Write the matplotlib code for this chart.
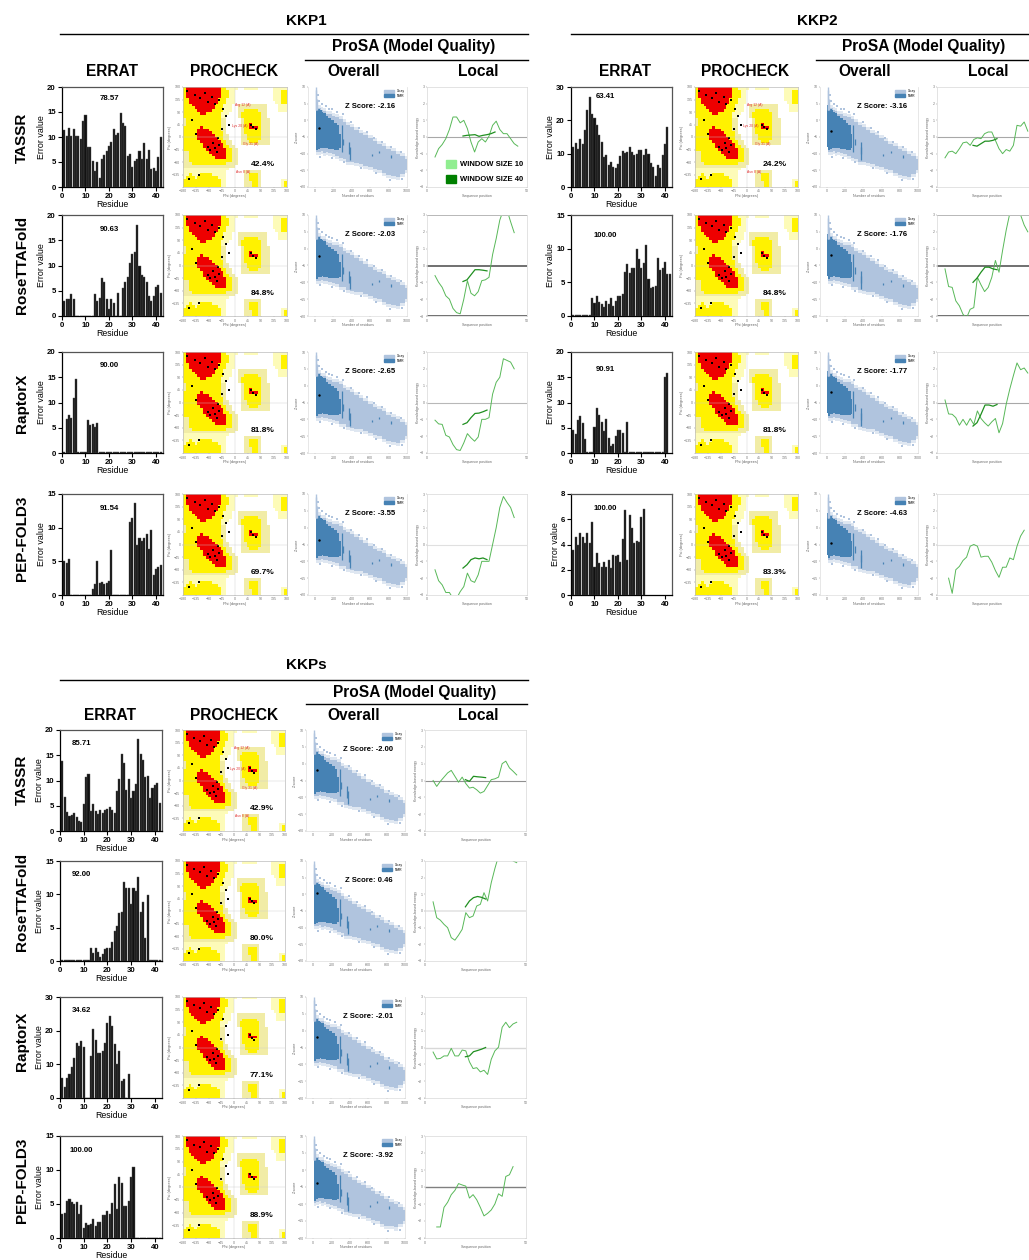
import numpy as np
import matplotlib
matplotlib.use('Agg')
import matplotlib.pyplot as plt
from matplotlib.colors import ListedColormap
from matplotlib.patches import Patch, Rectangle

plt.rcParams['font.family'] = ['Liberation Sans', 'DejaVu Sans']

W, H = 1029, 1260
MODELS = ['TASSR', 'RoseTTAFold', 'RaptorX', 'PEP-FOLD3']

# ERRAT error values per residue (starting at residue 1)
ERRAT = {
    'KKP1': [
        [11.5, 10.3, 11.8, 10.3, 11.7, 10.3, 10.3, 9.7, 13.2, 14.5, 8.1, 8, 5.3, 3.2, 5, 1.9, 5.7, 6.5, 7.3, 8.2, 9,
         11.7, 10.5, 10.8, 14.8, 12.8, 12.3, 6.3, 6.7, 4.1, 5.3, 5.6, 7.3, 5.7, 8.9, 5.6, 7.5, 3.6, 3.9, 3.2, 6.1, 10.1],
        [3, 3.3, 3.3, 4.4, 3.3, 0, 0, 0, 0, 0, 0, 0, 0, 4.3, 3, 3.5, 7.5, 6.8, 3.3, 1.4, 3.3, 2.5, 0, 4.5, 0, 5.6,
         6.7, 7.8, 10.4, 12.2, 12.6, 18, 10, 8.2, 7.7, 6.7, 3.9, 3, 3.9, 5.8, 6.1, 4.6],
        [0.1, 6.8, 7.6, 7, 10.8, 14.7, 0.1, 0.1, 0.1, 0.1, 6.5, 5.6, 5.8, 5.2, 5.9, 0.1, 0.1, 0.1, 0.1, 0.1, 0.1,
         0.1, 0.1, 0.1, 0.1, 0.1, 0.1, 0.1, 0.1, 0.1, 0.1, 0.1, 0.1, 0.1, 0.1, 0.1, 0.1, 0.1, 0.1, 0.1, 0.1, 0.1],
        [5, 4.7, 5.4, 0.05, 0.05, 0.05, 0.05, 0.05, 0.05, 0.05, 0.05, 0.05, 0.9, 1.6, 5, 1.8, 1.9, 1.6, 1.8, 2.1, 6.7,
         0.05, 0.05, 0.05, 0.05, 0.05, 0.05, 0.05, 10.8, 11.5, 13.7, 7.4, 8.4, 8, 8.4, 9.1, 6.9, 9.6, 3, 3.8, 4.1, 4.5],
    ],
    'KKP2': [
        [12, 13.3, 11.5, 14.3, 12.9, 17.2, 23, 27, 22, 20.8, 18.7, 15.5, 13.6, 9.1, 9.7, 6.5, 7.6, 6, 5.8, 7, 9.4,
         10.8, 10.2, 10.5, 12, 10.5, 9.5, 9.8, 11, 11, 9.5, 11.3, 10, 7.2, 6, 3.4, 6.6, 5.6, 9.5, 12.9, 18],
        [0.1, 0.1, 0.1, 0.1, 0.1, 0.1, 0.1, 0.1, 2.7, 2, 3, 2.1, 1.8, 1.4, 2.3, 1.8, 2.7, 1.5, 2.3, 3, 2.9, 3.3,
         6.5, 7.7, 6.4, 7.2, 7.1, 10, 8.5, 7.2, 7.8, 10.5, 5.5, 4.2, 4.3, 4.4, 8.6, 6.9, 7.2, 8, 6.2, 6.3],
        [4.6, 3.7, 6.6, 7.4, 6, 2.8, 0.1, 0.1, 0.1, 5.2, 9, 7.5, 6.2, 4.3, 6.8, 3, 1.3, 1.8, 3.4, 4.5, 4.5, 4, 0.1,
         6.2, 0.1, 0.1, 0.1, 0.1, 0.1, 0.1, 0.1, 0.1, 0.1, 0.1, 0.1, 0.1, 0.1, 0.1, 0.1, 15, 15.9],
        [3.6, 4.6, 4, 4.9, 4.6, 4.1, 4.9, 4.1, 5.8, 2.2, 3.3, 2.5, 2.2, 2.6, 2.2, 2.8, 2.1, 3.2, 3.1, 3.2, 2.6, 4.4,
         6.7, 2.8, 6.3, 5.3, 4.1, 4.3, 4.2, 6.2, 6.8],
    ],
    'KKPs': [
        [13.8, 6.8, 3.8, 2.9, 3.2, 3.5, 2.7, 1.9, 1.7, 5.3, 10.7, 11.3, 4, 5.4, 4, 3.4, 4.2, 3.6, 4.2, 4.3, 4.8, 4.2,
         3.5, 8, 10.3, 15.2, 13.4, 8.2, 10.3, 6.5, 7.9, 9.4, 18.2, 15.2, 14, 10.7, 10.8, 6.5, 8.6, 9.2, 9.6, 5.5],
        [0.1, 0.1, 0.1, 0.1, 0.1, 0.1, 0.1, 0.1, 0.1, 0.1, 0.1, 0.1, 2, 1.2, 1.9, 1.3, 0.6, 1, 1.8, 1.9, 2, 2.9, 4.5,
         5.3, 7.2, 7.4, 11.9, 10.9, 10.9, 8.6, 10.9, 10.5, 12.6, 7.4, 8.8, 3.4, 9.9, 0.1, 0.1, 0.1, 0.1, 0.1],
        [6, 3.4, 6, 7, 9.3, 11.9, 16.2, 15.5, 16.8, 15.2, 0.1, 0.1, 12.4, 20.5, 17.3, 13.4, 13.5, 13.9, 16.4, 22.2,
         24.4, 21.3, 16, 10.1, 14.1, 5.1, 5.5, 0.1, 7],
        [3.5, 3.7, 5.4, 5.8, 5.3, 5, 5.3, 3.6, 4.8, 1.5, 2.2, 1.9, 2, 2.8, 1.8, 2.4, 2.4, 3.4, 3.4, 3.9, 3.6, 5.1, 8,
         4.2, 9, 8.1, 4.7, 4.7, 5.5, 8.9, 10.4, 0.05, 0.05, 0.05, 0.05, 0.05, 0.05, 0.05, 0.05, 0.05, 0.05, 0.05],
    ],
}
ERRAT_YMAX = {'KKP1': [20, 20, 20, 15], 'KKP2': [30, 15, 20, 8], 'KKPs': [20, 15, 30, 15]}
ERRAT_SCORE = {'KKP1': ['78.57', '90.63', '90.00', '91.54'],
               'KKP2': ['63.41', '100.00', '90.91', '100.00'],
               'KKPs': ['85.71', '92.00', '34.62', '100.00']}
RAMA_PCT = {'KKP1': ['42.4%', '84.8%', '81.8%', '69.7%'],
            'KKP2': ['24.2%', '84.8%', '81.8%', '83.3%'],
            'KKPs': ['42.9%', '80.0%', '77.1%', '88.9%']}
Z_SCORE = {'KKP1': [-2.16, -2.03, -2.65, -3.55],
           'KKP2': [-3.16, -1.76, -1.77, -4.63],
           'KKPs': [-2.00, 0.46, -2.01, -3.92]}

# Ramachandran regions, 10 degree cells, psi 180 at the top
RAMA_MAP = [
    'YRRRRR RRRRRR RYYPPP PWWPPP PPWWWW WPPPPP',
    'YRRRRR RRRRRR RYYYPP WWWWWW WWWWWW WPPPYY',
    'YRRRRR RRRRRR RYYYPP WWWWWW WWWWWW WPPPYY',
    'YRRRRR RRRRRR RYYYPP WWWWWW WWWWWW WPPPYY',
    'YYRRRR RRRRRR YYYPPP WWWWWW WWWWWW WPPPYY',
    'YYRRRR RRRRRR YYYPPP WWWWWW WWWWWW WWPPYY',
    'YYYRRR RRRRRY YYPPPW WTTTTT TTTTTW WWWPPP',
    'YYYYRR RRRRRY YYPPPW WTTTTT TTTTTW WWWPPP',
    'YYYYYR RRRRYY YYPPPW WTTYYY YYTTTW WWWPPP',
    'YYYYYY RRYYYY YPPPWW WTYYYY YYYTTW WWWWWW',
    'YYYYYY YYYYYY YPPWWW WTYYYY YYYTTW WWWWWW',
    'TYYYYY YYYYYY YTTWWW WWTYYY YYYTTT WWWWWW',
    'TYYYYY YYYYYY YTTWWW WWTYYY YYYTTT WWWWWW',
    'TYYYYY YYYYYY YTTWWW WWTYYR YYYTTT WWWWWW',
    'YYYYYY RYYYYY YTTWWW WWTYYR RRYTTT WWWWWW',
    'YYYYYR RRRYYY YTTWWW WWTYYY YYYTTT WWWWWW',
    'YYYYYR RRRRYY YYTWWW WWTYYY YYYTTT WWWWWW',
    'YYYYYR RRRRRY YYTTWW WWTTYY YYYTTT WWWWWW',
    'YYYYYR RRRRRR YYTTWW WWTTYY YYYTTT WWWWWW',
    'YYYYYY RRRRRR RYYTTW WWTTTY YYTTTT WWWWWW',
    'YYYYYY YRRRRR RRYTTW WWTTTT TTTTTT WWWWWW',
    'YYYYYY YRRRRR RRYYTT WWWWWW WWWWWW WWWWWW',
    'YYYYYY YYRRRR RRRYYT TWWWWW WWWWWW WWWWWW',
    'TTYYYY YYYRRR RRRYYT TWWWWW WWWWWW WWWWWW',
    'TTYYYY YYYYRR RRRYYT TWWWWW WWWWWW WWWWWW',
    'TTYYYY YYYYYR RRRYYT TWWWWW WWWWWW WWWWWW',
    'TTYYYY YYYYYY YYYYYT TWWWWW WWWWWW WWWWWW',
    'TTTYYY YYYYYY YYYTTT TWWWWW WWWWWW WWWWWW',
    'TTTTTT TTTTTT TTTTTT WWWWWW WWWWWW WWWWWW',
    'PPPPPP PPPPPP PPPPWW WWWWWW WWWWWW WWWWWW',
    'PPPPPP PPPPPP PPPWWW WWWTTT TTTWWW WWWWWW',
    'PPYPPP YYYYPP PPPWWW WWWTTY YYTWWW WWWWWW',
    'PYYYPY YYYYYY PPPWWW WWWTTY YYTWWW WWWWWW',
    'YYYYYY YYYYYY YPPWWW WWWTTY YYTWWW WWWWPP',
    'YYYYYY YYYYYY YPPWWW WWWTTT YYTWWW WWWWPY',
    'YYYYYY YYYYYY YPPWWW WWWTTT YYTWWW WWWWPY',
]
RAMA_COLORS = {'W': '#ffffff', 'P': '#fdfbb8', 'T': '#f1eca6', 'Y': '#fff200', 'R': '#ee0000'}
RAMA_PHI = [-165, -140, -120, -105, -95, -80, -70, -55, -150, -135, -40, -30, -60, -75, -95, -85, -70, -62, -55, 55, 62, 72, -125, -160, -45, -20]
RAMA_PSI = [165, 150, 140, 160, 125, 145, 120, 135, 60, 10, 100, 75, -5, -20, -35, -45, -40, -55, -30, 45, 35, 28, -135, -150, 30, 45]
# small red residue tags, only on the TASSR panels
RAMA_TAG_PHI = [28, 15, 55, 28]
RAMA_TAG_PSI = [115, 40, -25, -125]
RAMA_TAG_TEXT = ['Arg 12 (A)', 'Lys 20 (A)', 'Gly 31 (A)', 'Asn 8 (A)']

# ProSA overall: NMR / X-ray envelope of the database cloud
CLOUD_X = [10, 20, 50, 75, 100, 130, 160, 200, 240, 280, 320, 360, 400, 450, 500, 550, 600, 650, 700, 750, 800, 850, 900, 950, 1000]
CLOUD_TOP = [4.5, 4.5, 3.8, 3.0, 2.9, 2.0, 1.8, 1.2, 1.0, .4, -.6, -1.3, -2, -2.9, -3.8, -4.5, -5.4, -6.2, -7, -7.6, -8.6, -9.3, -10, -10.8, -11.7]
CLOUD_BOTTOM = [-9.8, -9.6, -9.5, -9.2, -9.7, -9.5, -9.9, -10.2, -10.6, -11.3, -11.5, -12.4, -12.6, -12.8, -13, -13.6, -14, -14.6, -15, -15.8, -16.4, -16.6, -16.9, -16, -15]
NMR_X = [5, 10, 20, 40, 60, 80, 100, 130, 160, 190, 220, 250, 280]
NMR_TOP = [4.5, 5, 4.5, 3.5, 3, 2.6, 2.3, 1.2, .6, 0, -.7, -1.5, -4]
NMR_BOTTOM = [-8, -9.8, -9, -8.5, -8.3, -8.2, -8.3, -8.4, -8.6, -8.6, -8.8, -8.8, -8.4]
STRAY_X = [30, 45, 75, 115, 150, 185, 240, 300, 395, 480, 560, 640, 730, 830, 930,
           55, 180, 310, 500, 660, 820, 945]
STRAY_Y = [7.5, 5.9, 4.9, 4.2, 3.4, 3.3, 2.5, 1.8, -.6, -2.2, -3.4, -5.2, -6.4, -8, -9.6,
           -10.9, -11.3, -12.6, -14.2, -15.8, -18, -17.5]
NMR_SPOT_X = [290, 305, 370, 375, 620, 700, 830]
NMR_SPOT_TOP = [-1.5, -5.5, -6.5, -8, -10.2, -9.2, -10.5]
NMR_SPOT_BOTTOM = [-9.5, -7.5, -10.2, -12, -10.8, -9.8, -11.4]

# ProSA local energy, window size 10 / window size 40
WIN10_X = [4, 5.8, 7.6, 9.4, 11.2, 13, 14.8, 16.6, 18.4, 20.2, 22, 23.8, 25.6, 27.4, 29.2, 31, 32.8, 34.6, 36.4, 38.2, 40, 41.8, 43.6, 45.4]
WIN40_X = [18, 20, 22, 24, 26, 28, 30, 32, 34]
nan = float('nan')
WIN10 = {
    'KKP1': [
        [-1.2, -.7, -.45, -.1, .45, 1.2, 1.2, .85, 1, .5, -.3, -.9, -.3, -.1, -.3, .05, .7, .95, .45, .2, .2, -.1, -.4, -.55],
        [-.6, -1, -1.3, -1.8, -2, -2.55, -2.8, -2.87, -2, -.9, -1.65, -1.8, -1.55, -.9, -.85, -.7, .65, 1.6, 2.7, 3.3, 3.3, 2.6, 1.95],
        [-1.05, -1.27, -1.3, -1.95, -2.05, -2.5, -2.8, -2.85, -2.4, -1.85, -2.1, -2.3, -2.05, -1, -1, -.9, .5, 1.2, 1.5, 2.6, 2.5, 2.4, 2],
        [-1.5, -2.15, -2.4, -2.85, -2.85, -3.2, -3.2, -2.8, -2.5, -1.7, -2.15, -2.25, -1.8, -1, -1, -1, 0, 1, 2.2, 2.85, 2.5, 2.2, 1.6],
    ],
    'KKP2': [
        [-1.25, -.9, -.85, -1, -.7, -.35, -.3, -.5, -.15, -.05, -.1, .2, .3, .3, -.2, -.7, -1, -.75, -.85, -.5, .7, .65, .9, .35],
        [-.2, -1.25, -1.3, -2.1, -2.4, -2.9, -3.1, -2.6, -2.5, -.7, -1.15, -1.55, -1.3, -.7, .3, -.4, .9, 2.1, 3.1, 3.3, 3.3, 3, 2.4, 2],
        [.15, -.68, -.7, -.9, -1.35, -1, -1.35, -.95, -1.3, -.5, -.95, -1.2, -1.4, -1.15, -.95, -1.8, -1.25, -.1, .8, 1.6, 2.35, 1.95, 2.05, 1.75],
        [nan, -2, -2.9, -1.5, -1.3, -.95, -.75, -.1, 0, -.1, -.75, -.7, -.7, -1.05, -1.55, -1.95, -1.35, -1.35, -.8, -.9, -.1, .5, .85],
    ],
    'KKPs': [
        [0, -.35, -.05, .2, .45, .6, .25, -.1, .2, -.18, -.45, -.4, -.55, -.75, -.65, -.3, .05, .1, .2, 1, 1.15, .75, .55, .33],
        [.55, -.4, -.55, -.8, -1, -1.6, -1.75, -1.45, -1.1, -.1, -.4, -.3, .3, .4, 1.1, .6, 1.7, 2.55, 3.3, 3.3, 3.3, 3.3, 3, 2.9],
        [-.27, -.68, -.65, -.5, -.5, -.05, -.5, -.5, -.15, -.2, -.85, -1.25, -1.2, -1.45, -1.35, -1.6, -.7, -.2, .02, 1.2, 1.5, 1.18, 1.4, 1.5],
        [nan, -2.35, -2.35, -1.2, -.9, -.45, -.2, .2, .12, .05, -.65, -.45, -.75, -1.2, -1.7, -1.55, -1.35, -1, -.4, -.55, .62, .72, 1.2],
    ],
}
WIN40 = {
    'KKP1': [
        [.06, .1, .12, .14, .04, .1, .14, .2, .3],
        [-.95, -.85, -.55, -.25, -.25, -.28, -.32],
        [-1.3, -1.2, -.9, -.65, -.63, -.55, -.45],
        [-1.4, -1.2, -.9, -.8, -.85, -.8, -.9],
    ],
    'KKP2': [
        [-.5, -.55, -.4, -.25, -.25, -.2, -.1],
        [-1, -.75, -.4, -.1, -.1, -.2, -.25],
        [-1.4, -1.2, -.7, -.15, -.15, -.22, -.12],
        [],
    ],
    'KKPs': [
        [nan, .05, -.05, .25, .22, .2, .17],
        [nan, .25, .6, .8, .87, .82, .72],
        [nan, -.55, -.5, -.25, -.18, -.1, 0],
        [],
    ],
}
# colour and width of the reference line at 0 (and limits when the line hits them)
ZERO_LINE = {'KKP1': [('#a8a8a8', .8), ('#707070', 1.4), ('#b8b8b8', .8), ('#e0e0e0', .8)],
             'KKP2': [('#a8a8a8', .8), ('#707070', 1.4), ('#a8a8a8', .8), ('#e0e0e0', .8)],
             'KKPs': [('#909090', .8), ('#e4e4e4', 1.2), ('#d8d8d8', 1), ('#808080', 1)]}

# Layout in reference pixels
GROUPS = {
    'KKP1': dict(title=(306, 21), rule=(60, 528, 34), prosa=(414, 47), prosa_rule=(305, 528, 60), head_y=71,
                 head_x=(112, 234, 354, 478),
                 rows=[(87, 187), (215, 316), (352, 453), (494, 595)],
                 errat=(62, 163), rama=(183, 287), over=(308, 407), local=(427, 527),
                 label_y=[138, 265, 403, 538],
                 score_pos=[(.47, .89), (.47, .86), (.47, .87), (.47, .86)]),
    'KKP2': dict(title=(817, 21), rule=(571, 1029, 34), prosa=(924, 47), prosa_rule=(816, 1029, 60), head_y=71,
                 head_x=(625, 745, 865, 988),
                 rows=[(87, 187), (215, 316), (352, 453), (494, 595)],
                 errat=(571, 672), rama=(695, 798), over=(820, 918), local=(937, 1037),
                 label_y=None,
                 score_pos=[(.34, .9), (.34, .8), (.34, .83), (.34, .86)]),
    'KKPs': dict(title=(306, 665), rule=(60, 528, 680), prosa=(415, 693), prosa_rule=(306, 527, 704), head_y=716,
                 head_x=(110, 234, 354, 478),
                 rows=[(730, 831), (861, 961), (997, 1098), (1136, 1238)],
                 errat=(60, 162), rama=(183, 285), over=(306, 405), local=(425, 526),
                 label_y=[780, 902, 1041, 1180],
                 score_pos=[(.21, .87), (.21, .86), (.21, .87), (.21, .86)]),
}


def px_axes(fig, x0, x1, y0, y1):
    return fig.add_axes([x0 / W, 1 - y1 / H, (x1 - x0) / W, (y1 - y0) / H])


def px_text(fig, x, y, s, **kw):
    fig.text(x / W, 1 - y / H, s, ha='center', va='center', **kw)


def px_rule(fig, x0, x1, y):
    fig.add_artist(plt.Line2D([x0 / W, x1 / W], [1 - y / H, 1 - y / H], color='black', lw=1))


def tiny_axes(ax, color='#bbbbbb'):
    for s in ax.spines.values():
        s.set_color(color)
        s.set_linewidth(.5)
    ax.tick_params(labelsize=2.6, length=1, width=.3, pad=.8, colors='#777777')


def draw_errat(ax, values, ymax, score, pos):
    x = np.arange(1, len(values) + 1)
    ax.bar(x, values, width=.88, color='#111111', edgecolor='#555555', linewidth=.3)
    ax.set_xlim(0, 43)
    ax.set_ylim(0, ymax)
    step = 2 if ymax == 8 else (10 if ymax == 30 else 5)
    ax.set_yticks(np.arange(0, ymax + 1, step))
    ax.set_xticks([0, 10, 20, 30, 40])
    ax.tick_params(labelsize=5.6, length=3, width=.8, pad=1.5)
    for lab in ax.get_xticklabels() + ax.get_yticklabels():
        lab.set_fontweight('bold')
    ax.set_xlabel('Residue', fontsize=6.3, labelpad=0)
    ax.set_ylabel('Error value', fontsize=6.4, labelpad=.5)
    for s in ax.spines.values():
        s.set_linewidth(.9)
    ax.spines['top'].set_color('#555555')
    ax.spines['right'].set_color('#555555')
    ax.text(pos[0], pos[1], score, transform=ax.transAxes, ha='center', va='center', fontsize=5.6, fontweight='bold')


def draw_rama(ax, pct, tags):
    codes = list(RAMA_COLORS)
    grid = [[codes.index(c) for c in row.replace(' ', '')] for row in RAMA_MAP]
    ax.imshow(grid, cmap=ListedColormap(list(RAMA_COLORS.values())), vmin=0, vmax=4,
              extent=(-180, 180, -180, 180), aspect='auto', interpolation='nearest')
    ax.axhline(0, color='#cccccc', lw=.3)
    ax.axvline(0, color='#cccccc', lw=.3)
    ax.scatter(RAMA_PHI, RAMA_PSI, s=1.5, color='black', marker='s', linewidths=0)
    if tags:
        for phi, psi, t in zip(RAMA_TAG_PHI, RAMA_TAG_PSI, RAMA_TAG_TEXT):
            ax.text(phi, psi, t, fontsize=2.4, color='#e03030', ha='center', va='center')
    ax.set_xticks([-180, -135, -90, -45, 0, 45, 90, 135, 180])
    ax.set_yticks([-135, -90, -45, 0, 45, 90, 135, 180])
    tiny_axes(ax)
    ax.set_xlabel('Phi (degrees)', fontsize=2.8, labelpad=.5, color='#666666')
    ax.set_ylabel('Psi (degrees)', fontsize=2.8, labelpad=.5, color='#666666')
    ax.text(.77, .22, pct, transform=ax.transAxes, ha='center', va='center', fontsize=6, fontweight='bold')


def draw_overall(ax, z):
    light, dark = '#b0c4de', '#4682b4'
    top, bottom = np.array(CLOUD_TOP), np.array(CLOUD_BOTTOM)
    # paler fringe so the edge of the cloud is not a hard line
    ax.fill_between(CLOUD_X, top + .9, bottom - .9, color=light, alpha=.4, step='mid', linewidth=0)
    ax.fill_between(CLOUD_X, top, bottom, color=light, step='mid', linewidth=0)
    ax.vlines([6, 12, 18], [3, 3, 3], [10, 9, 6.5], color=light, lw=1)
    ax.scatter(STRAY_X, STRAY_Y, s=.8, color=light, marker='s', linewidths=0)
    ax.fill_between(NMR_X, NMR_TOP, NMR_BOTTOM, color=dark, step='mid', linewidth=0)
    ax.vlines(NMR_SPOT_X, NMR_SPOT_BOTTOM, NMR_SPOT_TOP, color=dark, lw=.9)
    ax.scatter([43], [z], s=3, color='black', zorder=5, linewidths=0)
    ax.set_xlim(-77, 1000)
    ax.set_ylim(-20, 10)
    ax.set_xticks([0, 200, 400, 600, 800, 1000])
    ax.set_yticks([-20, -15, -10, -5, 0, 5, 10])
    tiny_axes(ax, '#dddddd')
    ax.spines['top'].set_visible(False)
    ax.set_xlabel('Number of residues', fontsize=2.6, labelpad=.5, color='#666666')
    ax.set_ylabel('Z-score', fontsize=2.6, labelpad=.5, color='#666666')
    ax.legend(handles=[Patch(color=light, label='X-ray'), Patch(color=dark, label='NMR')], loc='upper right',
              fontsize=2.4, frameon=False, handlelength=3, handleheight=1, borderaxespad=0.3, labelspacing=.2)
    ax.text(.63, .81, f'Z Score: {z:.2f}', transform=ax.transAxes, ha='center', va='center', fontsize=5.5, fontweight='bold')


def draw_local(ax, w10, w40, zero, clipped):
    color, lw = zero
    ax.axhline(0, color=color, lw=lw, zorder=1)
    if lw > 1.2:
        ax.axhline(3, color=color, lw=lw, zorder=1)
        ax.axhline(-3, color=color, lw=lw, zorder=1)
    ax.plot(WIN10_X[:len(w10)], w10, color='#58b858', lw=.7, zorder=2)
    if w40:
        ax.plot(WIN40_X[:len(w40)], w40, color='#1f8f1f', lw=.9, zorder=3)
    ax.set_xlim(0, 50)
    ax.set_ylim(-3, 3)
    # the right end of these panels falls outside the picture
    ax.set_xticks([0] if clipped else [0, 50])
    ax.set_yticks([-3, -2, -1, 0, 1, 2, 3])
    tiny_axes(ax, '#d8d8d8')
    ax.set_xlabel('Sequence position', fontsize=2.6, labelpad=.5, color='#666666')
    ax.set_ylabel('Knowledge-based energy', fontsize=2.6, labelpad=.5, color='#666666')


fig = plt.figure(figsize=(W / 100, H / 100), dpi=100)

for name, g in GROUPS.items():
    px_text(fig, g['title'][0], g['title'][1], name, fontsize=11, fontweight='bold')
    px_rule(fig, *g['rule'])
    px_rule(fig, *g['prosa_rule'])
    px_text(fig, g['prosa'][0], g['prosa'][1], 'ProSA (Model Quality)', fontsize=11.2, fontweight='bold')
    for x, head in zip(g['head_x'], ['ERRAT', 'PROCHECK', 'Overall', 'Local']):
        px_text(fig, x, g['head_y'], head, fontsize=11.2, fontweight='bold')

    for i, (y0, y1) in enumerate(g['rows']):
        draw_errat(px_axes(fig, *g['errat'], y0, y1), ERRAT[name][i], ERRAT_YMAX[name][i], ERRAT_SCORE[name][i], g['score_pos'][i])
        draw_rama(px_axes(fig, *g['rama'], y0, y1), RAMA_PCT[name][i], i == 0)
        draw_overall(px_axes(fig, *g['over'], y0, y1), Z_SCORE[name][i])
        draw_local(px_axes(fig, *g['local'], y0, y1), WIN10[name][i], WIN40[name][i], ZERO_LINE[name][i], g['local'][1] > W)
        if g['label_y']:
            px_text(fig, 22, g['label_y'][i], MODELS[i], fontsize=11, fontweight='bold', rotation=90)

# window size legend inside the first local panel
for y, color, label in [(160, '#90ee90', 'WINDOW SIZE 10'), (175, '#008000', 'WINDOW SIZE 40')]:
    fig.add_artist(Rectangle((446 / W, 1 - (y + 8) / H), 10 / W, 8 / H, color=color, transform=fig.transFigure))
    fig.text(460 / W, 1 - (y + 4.5) / H, label, ha='left', va='center', fontsize=5.5, fontweight='bold')

fig.savefig('out.png', dpi=100)
